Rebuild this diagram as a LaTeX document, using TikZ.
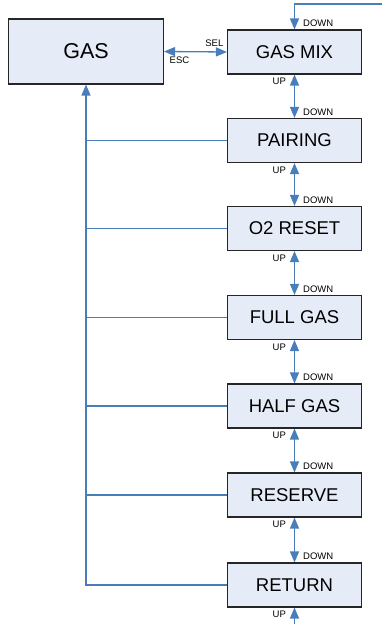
\documentclass[tikz,border=0pt]{standalone}
\usepackage{fontspec}
\setmainfont{Liberation Sans}
\usetikzlibrary{arrows.meta,positioning}

\definecolor{linkblue}{HTML}{4A7EBB}
\definecolor{boxfill}{HTML}{E6ECF7}

\begin{document}
\begin{tikzpicture}[
    x=1pt,
    y=-1pt,
    menu/.style={
        draw=black!85,
        line width=1.1pt,
        fill=boxfill,
        minimum width=134pt,
        minimum height=44pt,
        font=\fontsize{18.5}{20}\selectfont
    },
    link/.style={
        draw=linkblue,
        line width=1.3pt
    },
    onetip/.style={
        link,
        -{Triangle[width=9pt,length=11pt]}
    },
    twotip/.style={
        link,
        {Triangle[width=9pt,length=11pt]}-{Triangle[width=9pt,length=11pt]}
    },
    key/.style={
        font=\fontsize{9.5}{10}\selectfont,
        inner sep=1pt
    }
]

\useasboundingbox (0,0) rectangle (382,624);


\node[menu, minimum width=155pt, minimum height=65pt,
      font=\fontsize{21.5}{24}\selectfont] (gas) at (86,51.5) {GAS};


\node[menu] (gasmix)  at (294.5,52)  {GAS MIX};
\node[menu] (pairing) at (294.5,140.5) {PAIRING};
\node[menu] (oreset)  at (294.5,228.5) {O2 RESET};
\node[menu] (fullgas) at (294.5,317.5) {FULL GAS};
\node[menu] (halfgas) at (294.5,406) {HALF GAS};
\node[menu] (reserve) at (294.5,495) {RESERVE};
\node[menu] (return)  at (294.5,585) {RETURN};


\coordinate (topin) at (382,4);
\coordinate (botin) at (294.5,624);


\draw[twotip] (gas.east) -- (gasmix.west)
    node[key, pos=1, above left=4pt and 2pt] {SEL}
    node[key, pos=0, below right=4pt and 4pt] {ESC};


\draw[onetip] (topin) -| (gasmix.north)
    node[key, pos=1, above right=1pt and 7pt] {DOWN};


\draw[twotip] (gasmix.south) -- (pairing.north)
    node[key, pos=0, below left=2pt and 7pt] {UP}
    node[key, pos=1, above right=1pt and 7pt] {DOWN};
\draw[twotip] (pairing.south) -- (oreset.north)
    node[key, pos=0, below left=2pt and 7pt] {UP}
    node[key, pos=1, above right=1pt and 7pt] {DOWN};
\draw[twotip] (oreset.south) -- (fullgas.north)
    node[key, pos=0, below left=2pt and 7pt] {UP}
    node[key, pos=1, above right=1pt and 7pt] {DOWN};
\draw[twotip] (fullgas.south) -- (halfgas.north)
    node[key, pos=0, below left=2pt and 7pt] {UP}
    node[key, pos=1, above right=1pt and 7pt] {DOWN};
\draw[twotip] (halfgas.south) -- (reserve.north)
    node[key, pos=0, below left=2pt and 7pt] {UP}
    node[key, pos=1, above right=1pt and 7pt] {DOWN};
\draw[twotip] (reserve.south) -- (return.north)
    node[key, pos=0, below left=2pt and 7pt] {UP}
    node[key, pos=1, above right=1pt and 7pt] {DOWN};


\draw[onetip] (botin) -- (return.south)
    node[key, pos=1, below left=2pt and 7pt] {UP};


\draw[onetip] (return.west) -| (gas.south);
\draw[link] (pairing.west) -- (pairing.west -| gas.south);
\draw[link] (oreset.west)  -- (oreset.west -| gas.south);
\draw[link] (fullgas.west) -- (fullgas.west -| gas.south);
\draw[link] (halfgas.west) -- (halfgas.west -| gas.south);
\draw[link] (reserve.west) -- (reserve.west -| gas.south);

\end{tikzpicture}
\end{document}
